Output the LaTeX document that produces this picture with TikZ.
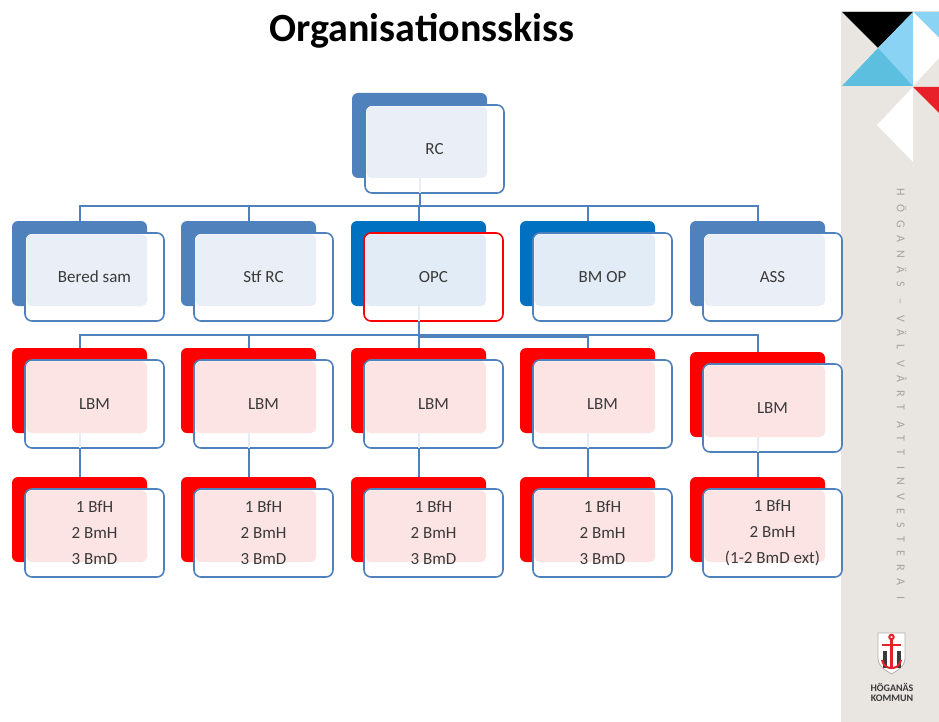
\documentclass[tikz,border=0pt]{standalone}
\usepackage{fontspec}
\setmainfont{Carlito}
\newfontfamily\mottofont[LetterSpace=68]{Carlito}
\usepackage{tikz}
\usetikzlibrary{positioning}

\definecolor{hkblue}{HTML}{4F81BD}
\definecolor{hkdeep}{HTML}{0070C0}
\definecolor{hkpale}{HTML}{EAEFF7}
\definecolor{hkpaleb}{HTML}{E2ECF7}
\definecolor{hkred}{HTML}{FF0000}
\definecolor{hkpink}{HTML}{FDE4E4}
\definecolor{hkgrey}{HTML}{E9E5E1}
\definecolor{hkstone}{HTML}{A8A29C}
\definecolor{hkink}{HTML}{3A3A3A}
\definecolor{hksky}{HTML}{8BD3F4}
\definecolor{hkcyan}{HTML}{5DBFE0}
\definecolor{hkflag}{HTML}{E8202A}

% one box: back plate, front card, pale overlap, text
\newcommand{\orgbox}[6]{%
  \node[backbox, fill=#3] (#1-b) at (#2) {};
  \node[frontbox, draw=#4, below right=12pt and 13pt of #1-b.north west] (#1) {};
  \fill[#5, rounded corners=5pt] ([shift={(1.4pt,-1.4pt)}]#1.north west)
    rectangle (#1-b.south east);
  \node[boxtext] (#1-t) at (#1.center) {#6};
}

\begin{document}
\begin{tikzpicture}[x=1pt, y=-1pt,
  backbox/.style  = {anchor=north west, minimum width=135pt, minimum height=85pt,
                     inner sep=0pt, outer sep=0pt, rounded corners=6pt},
  frontbox/.style = {minimum width=139pt, minimum height=88pt, inner sep=0pt,
                     outer sep=0pt, rounded corners=7pt, fill=white, line width=1.6pt},
  boxtext/.style  = {align=center, text=hkink, font=\fontsize{17}{26}\selectfont},
  link/.style     = {draw=hkblue, line width=2pt},
  ghost/.style    = {draw=hkblue!15, line width=2pt},
  mottotext/.style = {text=hkstone, font=\mottofont\fontsize{12}{12}\selectfont},
  logotext/.style = {text=hkink, font=\bfseries\fontsize{10}{10}\selectfont}]

  \useasboundingbox (0,0) rectangle (939,722);
  \fill[white] (0,0) rectangle (939,722);

  % side banner
  \fill[hkgrey] (841,11) rectangle (939,722);
  \fill[black]  (842,12) -- (913,12) -- (878,48) -- cycle;
  \fill[hksky]  (913,12) -- (878,48) -- (913,86) -- cycle;
  \fill[hksky]  (913,12) -- (939,12) -- (939,38) -- cycle;
  \fill[hkcyan] (842,86) -- (878,48) -- (913,86) -- cycle;
  \fill[white]  (913,12) -- (939,38) -- (939,58) -- (913,86) -- cycle;
  \fill[hkflag] (913,87) -- (939,87) -- (939,113) -- cycle;
  \fill[white]  (913,87) -- (877,125) -- (913,162) -- cycle;
  \node[mottotext, rotate=-90] (motto) at (902,394) {HÖGANÄS – VÄL VÅRT ATT INVESTERA I};

  % logo
  \draw[gray!60, fill=white, line width=0.8pt] (878,633) -- (905,633) -- (905,658)
    .. controls (905,667) and (896,671) .. (891.5,674)
    .. controls (887,671) and (878,667) .. (878,658) -- cycle;
  \fill[hkink] (883,651) rectangle (887,668);
  \fill[hkink] (897,651) rectangle (901,668);
  \draw[hkflag, line width=2pt] (891.5,637) circle (2.2);
  \draw[hkflag, line width=2.4pt] (891.5,640) -- (891.5,668);
  \draw[hkflag, line width=2pt] (882,645) -- (901,645);
  \draw[hkflag, line width=2pt] (882,660) .. controls (884,667) and (888,668) .. (891.5,668)
    .. controls (895,668) and (899,667) .. (901,660);
  \node[logotext] (logo-a) at (892,687) {HÖGANÄS};
  \node[logotext] (logo-b) at (892,698) {KOMMUN};

  % title
  \node[anchor=base, font=\bfseries\fontsize{40}{40}\selectfont] (title) at (422,42)
    {Organisationsskiss};

  % boxes
  \orgbox{rc}{352,93}{hkblue}{hkblue}{hkpale}{RC}
  \orgbox{bered}{12,221}{hkblue}{hkblue}{hkpale}{Bered sam}
  \orgbox{stf}{181,221}{hkblue}{hkblue}{hkpale}{Stf RC}
  \orgbox{opc}{351,221}{hkdeep}{hkred}{hkpaleb}{OPC}
  \orgbox{bmop}{520,221}{hkdeep}{hkblue}{hkpaleb}{BM OP}
  \orgbox{ass}{690,221}{hkblue}{hkblue}{hkpale}{ASS}
  \foreach \x/\y [count=\i] in {12/348, 181/348, 351/348, 520/348, 690/352}
    {\orgbox{lbm\i}{\x,\y}{hkred}{hkblue}{hkpink}{LBM}}
  \foreach \x/\last [count=\i] in {12/3 BmD, 181/3 BmD, 351/3 BmD, 520/3 BmD, 690/(1-2 BmD ext)}
    {\orgbox{team\i}{\x,477}{hkred}{hkblue}{hkpink}{1 BfH\\2 BmH\\\last}}

  % links
  \coordinate (bar1) at (0,206);
  \coordinate (bar2) at (0,335);
  \draw[ghost] (rc-b.south) -- (rc-b.south |- rc.south);
  \draw[link] (rc-b.south |- rc.south) -- (rc-b.south |- bar1);
  \foreach \c in {bered,stf,opc,bmop,ass}
    \draw[link] (rc-b.south |- bar1) -| (\c-b.north);
  \draw[ghost] (opc-b.south) -- (opc-b.south |- opc.south);
  \draw[link] (opc-b.south |- opc.south) -- (opc-b.south |- bar2);
  \foreach \i in {1,...,5} {
    \draw[link] (opc-b.south |- bar2) -| (lbm\i-b.north);
    \draw[ghost] (lbm\i-b.south) -- (lbm\i-b.south |- lbm\i.south);
    \draw[link] (lbm\i-b.south |- lbm\i.south) -- (team\i-b.north);
  }
  \draw[link] ([yshift=-2pt]opc-b.south |- bar2) -- ([yshift=-2pt]bmop-b.south |- bar2);
\end{tikzpicture}
\end{document}
